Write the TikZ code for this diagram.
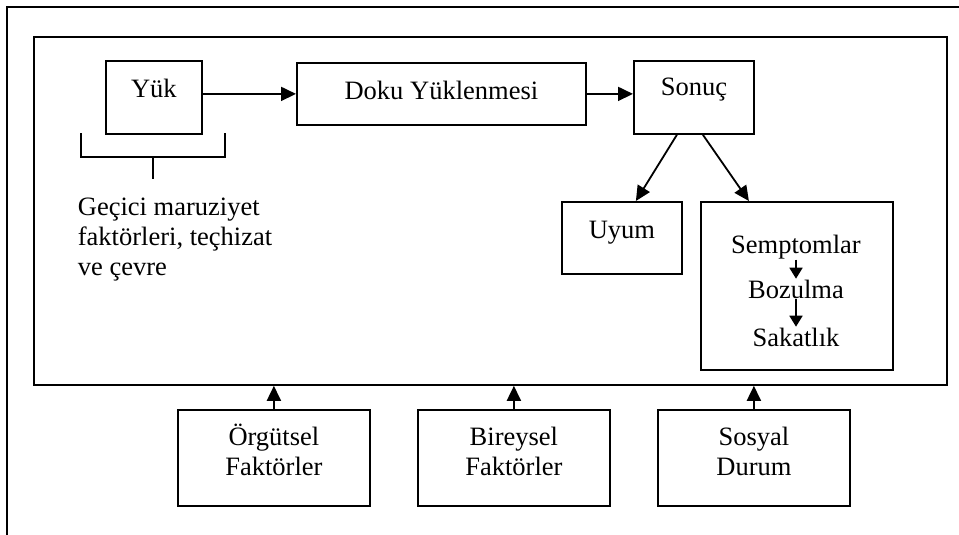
\documentclass[tikz,border=0pt]{standalone}
\usepackage{fontspec}
\setmainfont{Liberation Serif}
\usetikzlibrary{arrows.meta,positioning}

\begin{document}
\begin{tikzpicture}[x=1pt, y=-1pt, ->, >={Triangle[length=15pt,width=14pt]}, line width=1.8pt, font=\fontsize{26.5}{30}\selectfont]
		\tikzstyle{every node}=[inner sep=0pt]
		\tikzstyle{box}=[draw, rectangle, anchor=north west]
		\tikzstyle{factor}=[box, minimum width=192pt, align=center, text height=66pt, text depth=30pt]
		\tikzstyle{small arrow}=[-{Triangle[length=11pt,width=13pt]}]

		\useasboundingbox (0,0) rectangle (959,535);
		\draw[-, line width=2.2pt] (959,7) -- (7,7) -- (7,535);

		\begin{scope}
			\node[box, minimum width=913pt, minimum height=348pt] (cerceve) at (33,36) {};

			\node[box, minimum width=96pt, text height=37pt, text depth=36pt] (yuk) at (105,60) {Yük};
			\node[box, minimum width=289pt, text height=37pt, text depth=25pt] (doku) at (296,62) {Doku Yüklenmesi};
			\node[box, minimum width=120pt, text height=35pt, text depth=38pt] (sonuc) at (633,60) {Sonuç};
			\node[box, minimum width=120pt, text height=37pt, text depth=35pt] (uyum) at (561,201) {Uyum};
			\node[box, minimum width=192pt, minimum height=168pt] (belirti) at (700,201) {};
			\node[anchor=base] (semp) at (796,253) {Semptomlar};
			\node[anchor=base] (bozul) at (796,298) {Bozulma};
			\node[anchor=base] (sakat) at (796,346) {Sakatlık};

			\node[anchor=north west, align=left] (gecici) at (77,197) {Geçici maruziyet\\faktörleri, teçhizat\\ve çevre};

			\draw[-] (81,133) -- (81,157) -- (225,157) -- (225,133);
			\draw[-] (153,157) -- (153,179);

			\draw[->] (yuk.east |- doku.west) -- (doku.west);
			\draw[->] (doku.east) -- (doku.east -| sonuc.west);
			\draw[->] ([xshift=-17pt]sonuc.south) -- ([xshift=14pt]uyum.north);
			\draw[->] ([xshift=9pt]sonuc.south) -- ([xshift=-48pt]belirti.north);
			\draw[small arrow] (semp.south) -- (bozul.north);
			\draw[small arrow] (bozul.south) -- (sakat.north);
		\end{scope}

		\begin{scope}
			\node[factor] (orgut) at (177,409) {Örgütsel\\Faktörler};
			\node[factor] (birey) at (417,409) {Bireysel\\Faktörler};
			\node[factor] (sosyal) at (657,409) {Sosyal\\Durum};

			\draw[->] (orgut.north) -- (orgut.north |- cerceve.south);
			\draw[->] (birey.north) -- (birey.north |- cerceve.south);
			\draw[->] (sosyal.north) -- (sosyal.north |- cerceve.south);
		\end{scope}
	\end{tikzpicture}
\end{document}
